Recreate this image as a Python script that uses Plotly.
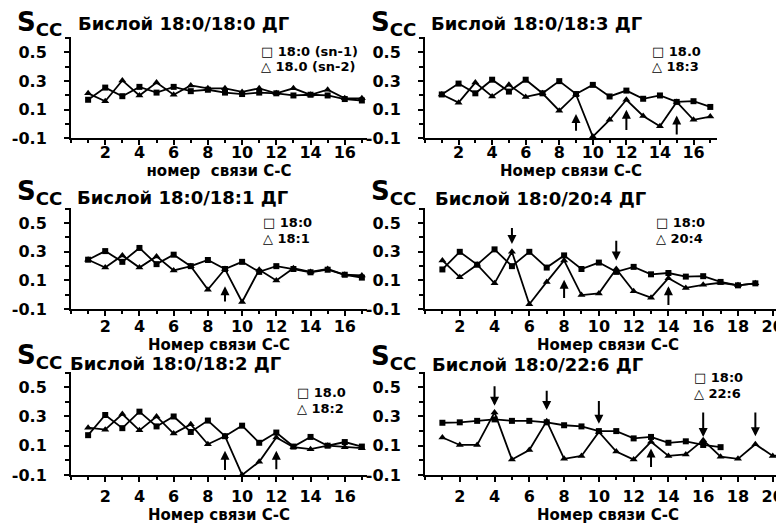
import plotly.graph_objects as go

# ---------------- data ----------------
bonds17 = list(range(1, 18))
bonds19 = list(range(1, 20))
bonds21 = list(range(1, 22))

p1_sq = [0.17, 0.255, 0.195, 0.26, 0.22, 0.26, 0.23, 0.24, 0.22, 0.21, 0.22, 0.215, 0.20, 0.205, 0.20, 0.175, 0.165]
p1_tr = [0.215, 0.16, 0.305, 0.20, 0.29, 0.205, 0.27, 0.25, 0.25, 0.225, 0.25, 0.215, 0.25, 0.205, 0.24, 0.18, 0.18]

p2_sq = [0.207, 0.283, 0.215, 0.31, 0.227, 0.31, 0.215, 0.30, 0.21, 0.274, 0.193, 0.234, 0.177, 0.20, 0.155, 0.16, 0.12]
p2_tr = [0.207, 0.15, 0.29, 0.193, 0.274, 0.19, 0.215, 0.094, 0.207, -0.087, 0.03, 0.17, 0.057, -0.015, 0.155, 0.03, 0.053]

p3_sq = [0.245, 0.305, 0.23, 0.327, 0.214, 0.28, 0.20, 0.243, 0.18, 0.23, 0.16, 0.20, 0.18, 0.157, 0.175, 0.14, 0.12]
p3_tr = [0.245, 0.19, 0.275, 0.19, 0.268, 0.17, 0.20, 0.036, 0.18, -0.05, 0.175, 0.10, 0.185, 0.16, 0.18, 0.14, 0.135]

p4_sq = [0.177, 0.30, 0.21, 0.317, 0.20, 0.30, 0.19, 0.275, 0.18, 0.225, 0.16, 0.195, 0.143, 0.152, 0.127, 0.13, 0.09, 0.066, 0.08]
p4_tr = [0.24, 0.123, 0.21, 0.08, 0.30, -0.066, 0.09, 0.24, -0.002, 0.01, 0.18, 0.025, -0.02, 0.116, 0.048, 0.07, 0.084, 0.066, 0.08]

p5_sq = [0.172, 0.31, 0.22, 0.333, 0.232, 0.30, 0.194, 0.272, 0.165, 0.237, 0.12, 0.19, 0.094, 0.16, 0.10, 0.125, 0.094]
p5_tr = [0.223, 0.21, 0.317, 0.205, 0.30, 0.183, 0.246, 0.11, 0.165, -0.1, -0.01, 0.156, 0.09, 0.076, 0.10, 0.09, 0.083]

p6_sq = [0.257, 0.26, 0.27, 0.28, 0.27, 0.27, 0.26, 0.24, 0.232, 0.20, 0.20, 0.15, 0.16, 0.12, 0.13, 0.105, 0.09]
p6_tr = [0.156, 0.105, 0.105, 0.328, 0.005, 0.07, 0.268, 0.01, 0.03, 0.194, 0.06, 0.005, 0.127, 0.03, 0.04, 0.138, 0.025, 0.01, 0.11, 0.03, 0.04]

titles = ["Бислой 18:0/18:0 ДГ", "Бислой 18:0/18:3 ДГ", "Бислой 18:0/18:1 ДГ",
          "Бислой 18:0/20:4 ДГ", "Бислой 18:0/18:2 ДГ", "Бислой 18:0/22:6 ДГ"]
legend_sq = ["18:0 (sn-1)", "18.0", "18:0", "18:0", "18.0", "18:0"]
legend_tr = ["18.0 (sn-2)", "18:3", "18:1", "20:4", "18:2", "22:6"]
xtitles = ["номер  связи С-С", "Номер связи С-С", "Номер связи С-С",
           "Номер связи С-С", "Номер связи С-С", "Номер связи С-С"]

ytick_vals = [-0.1, 0.1, 0.3, 0.5]
ytick_text = ["-0.1", "0.1", "0.3", "0.5"]

# arrows: (bond, head value, tail value)
arrows = {
    2: [(9, 0.07, -0.05), (12, 0.10, -0.045), (15, 0.06, -0.075)],
    3: [(9, 0.06, -0.05)],
    4: [(5, 0.355, 0.47), (11, 0.24, 0.38), (8, 0.105, -0.025), (14, 0.06, -0.075)],
    5: [(9, 0.065, -0.07), (12, 0.065, -0.065)],
    6: [(4, 0.373, 0.51), (7, 0.344, 0.48), (10, 0.25, 0.41), (16, 0.16, 0.33),
        (19, 0.165, 0.33), (13, 0.08, -0.05)],
}

panels = [
    (bonds17, p1_sq, bonds17, p1_tr),
    (bonds17, p2_sq, bonds17, p2_tr),
    (bonds17, p3_sq, bonds17, p3_tr),
    (bonds19, p4_sq, bonds19, p4_tr),
    (bonds17, p5_sq, bonds17, p5_tr),
    (bonds17, p6_sq, bonds21, p6_tr),
]

# ---------------- layout geometry (pixels) ----------------
W, H = 784, 524
FONT = "DejaVu Sans, sans-serif"
# (x0, x1, ytop, ybottom, xmax)
geo = [
    (63, 359, 30, 133, 17.3),
    (417, 709, 30, 133, 17.4),
    (63, 359, 204, 307, 17.3),
    (417, 783, 204, 307, 21.05),
    (63, 359, 371, 476, 17.3),
    (417, 783, 371, 476, 21.05),
]
row_of = [0, 0, 1, 1, 2, 2]
xlabel_standoff = [-7, -3, 1]
xtitle_standoff = [0, 0, 4]
title_pos = [(68, 16), (421, 16), (67, 193), (425, 194), (60, 362), (422, 363)]
scc_pos = [(56, 16), (410, 16), (56, 188), (410, 188), (56, 355), (410, 356)]
leg_pos = [(251, 44), (642, 44), (253, 219), (646, 219), (287, 392), (684, 377)]

fig = go.Figure()
annotations = []

for i, (xs, sq, xt, tr) in enumerate(panels):
    n = i + 1
    xa = "x" if n == 1 else f"x{n}"
    ya = "y" if n == 1 else f"y{n}"
    fig.add_trace(go.Scatter(x=xs, y=sq, mode="lines+markers", xaxis=xa, yaxis=ya,
                             line=dict(color="black", width=1.8),
                             marker=dict(symbol="square", size=6, color="black"),
                             showlegend=False, cliponaxis=False))
    fig.add_trace(go.Scatter(x=xt, y=tr, mode="lines+markers", xaxis=xa, yaxis=ya,
                             line=dict(color="black", width=1.8),
                             marker=dict(symbol="triangle-up", size=7, color="black"),
                             showlegend=False, cliponaxis=False))
    x0, x1, yt, yb, xmax = geo[i]
    r = row_of[i]
    xkey = "xaxis" if n == 1 else f"xaxis{n}"
    ykey = "yaxis" if n == 1 else f"yaxis{n}"
    major = list(range(2, int(xmax) + 1, 2))
    fig.layout[xkey] = dict(
        domain=[x0 / W, x1 / W], range=[0, xmax], anchor=ya,
        showline=True, linecolor="black", linewidth=2, showgrid=False, zeroline=False,
        tickmode="array", tickvals=major, ticktext=[str(v) for v in major],
        ticks="outside", ticklen=5, tickwidth=2, tickcolor="black",
        ticklabelstandoff=xlabel_standoff[r],
        minor=dict(tickmode="linear", tick0=0, dtick=1, ticks="outside", ticklen=3,
                   tickwidth=1.5, tickcolor="black", showgrid=False),
        tickfont=dict(family=FONT, size=16, color="black", weight="bold"),
        title=dict(text=xtitles[i], standoff=xtitle_standoff[r],
                   font=dict(family=FONT, size=15, color="black", weight="bold")),
    )
    fig.layout[ykey] = dict(
        domain=[1 - yb / H, 1 - yt / H], range=[-0.1, 0.605], anchor=xa,
        showline=True, linecolor="black", linewidth=2, showgrid=False, zeroline=False,
        tickmode="array", tickvals=ytick_vals, ticktext=ytick_text,
        ticks="outside", ticklen=5, tickwidth=2, tickcolor="black",
        ticklabelstandoff=14,
        minor=dict(tickmode="linear", tick0=-0.1, dtick=0.1, ticks="outside", ticklen=4,
                   tickwidth=1.5, tickcolor="black", showgrid=False),
        tickfont=dict(family=FONT, size=16, color="black", weight="bold"),
    )
    # title
    tx, ty = title_pos[i]
    annotations.append(dict(text=titles[i], xref="paper", yref="paper", x=tx / W, y=1 - ty / H,
                            xanchor="left", yanchor="middle", showarrow=False,
                            font=dict(family=FONT, size=18, color="black", weight="bold")))
    # S_CC label
    sx, sy = scc_pos[i]
    annotations.append(dict(text="S<sub>CC</sub>", xref="paper", yref="paper", x=sx / W, y=1 - sy / H,
                            xanchor="right", yanchor="middle", showarrow=False,
                            font=dict(family=FONT, size=26, color="black", weight="bold")))
    # legend entries (symbol + label)
    lx, ly = leg_pos[i]
    annotations.append(dict(text="□ " + legend_sq[i], xref="paper", yref="paper", x=lx / W, y=1 - ly / H,
                            xanchor="left", yanchor="middle", showarrow=False,
                            font=dict(family=FONT, size=13, color="black", weight="bold")))
    annotations.append(dict(text="△ " + legend_tr[i], xref="paper", yref="paper", x=lx / W,
                            y=1 - (ly + 16) / H,
                            xanchor="left", yanchor="middle", showarrow=False,
                            font=dict(family=FONT, size=13, color="black", weight="bold")))
    # arrows
    for (bx, head, tail) in arrows.get(n, []):
        annotations.append(dict(x=bx, y=head, ax=bx, ay=tail, xref=xa, yref=ya,
                                axref=xa, ayref=ya, showarrow=True, arrowhead=2,
                                arrowsize=0.9, arrowwidth=2, arrowcolor="black", text="",
                                borderpad=0, font=dict(size=1)))

fig.update_layout(
    width=W, height=H, margin=dict(l=0, r=0, t=0, b=0),
    paper_bgcolor="white", plot_bgcolor="white",
    font=dict(family=FONT, color="black"),
    annotations=annotations, showlegend=False,
)

fig.write_html("out.html")
